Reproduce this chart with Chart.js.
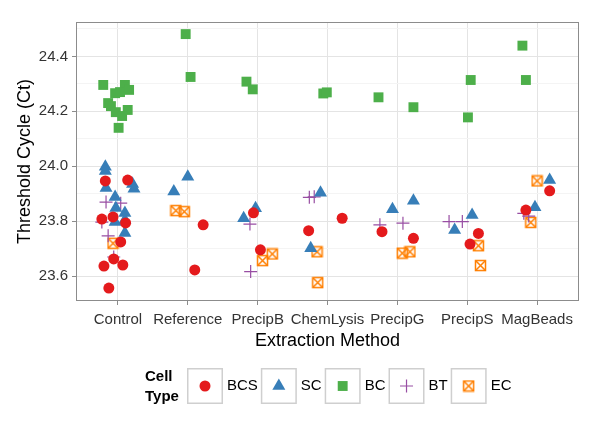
<!DOCTYPE html>
<html>
<head>
<meta charset="utf-8">
<script src="https://cdn.jsdelivr.net/npm/chart.js@4.4.0/dist/chart.umd.min.js"></script>
<style>
html, body { margin: 0; padding: 0; background: #fff; }
</style>
</head>
<body>
<canvas id="chart" width="600" height="436"></canvas>
<script>
var categories = ['Control', 'Reference', 'PrecipB', 'ChemLysis', 'PrecipG', 'PrecipS', 'MagBeads'];
var yGrid = [23.6, 23.7, 23.8, 23.9, 24.0, 24.1, 24.2, 24.3, 24.4, 24.5];

// x = category index plus the jitter seen in the picture
var bcsX = [-0.18, 0.14, -0.23, -0.07, 0.11, 0.04, -0.06, -0.20, 0.07, -0.13, 1.22, 1.10, 1.94, 2.04, 2.73, 3.21, 3.78, 4.23, 5.04, 5.16, 6.18, 5.84];
var bcsY = [23.947, 23.950, 23.808, 23.816, 23.794, 23.725, 23.663, 23.637, 23.641, 23.557, 23.787, 23.623, 23.831, 23.696, 23.766, 23.811, 23.762, 23.738, 23.717, 23.756, 23.911, 23.841];

var scX = [-0.18, -0.18, -0.17, 0.21, 0.23, -0.04, -0.03, 0.10, -0.04, 0.10, 0.10, 1.00, 0.80, 1.97, 1.80, 2.90, 2.76, 3.93, 4.23, 4.82, 5.07, 6.18, 5.97];
var scY = [23.998, 23.983, 23.921, 23.936, 23.918, 23.888, 23.848, 23.830, 23.797, 23.805, 23.757, 23.962, 23.908, 23.847, 23.811, 23.904, 23.702, 23.844, 23.875, 23.768, 23.823, 23.950, 23.851];

var bcX = [-0.21, 0.10, 0.16, -0.04, 0.03, -0.14, -0.10, 0.14, -0.03, 0.06, 0.01, 0.97, 1.04, 1.84, 1.93, 2.94, 2.99, 3.73, 4.23, 5.05, 5.01, 5.79, 5.84];
var bcY = [24.296, 24.296, 24.278, 24.266, 24.270, 24.230, 24.219, 24.205, 24.197, 24.183, 24.140, 24.481, 24.325, 24.308, 24.280, 24.265, 24.269, 24.251, 24.215, 24.314, 24.178, 24.439, 24.314];

var btX = [-0.17, 0.04, -0.23, 0.09, -0.14, -0.06, 1.89, 1.90, 2.74, 2.81, 3.75, 4.08, 4.74, 4.93, 5.81, 5.88];
var btY = [23.870, 23.866, 23.797, 23.794, 23.747, 23.670, 23.790, 23.617, 23.887, 23.889, 23.787, 23.793, 23.799, 23.799, 23.829, 23.819];

var ecX = [-0.07, 0.83, 0.95, 2.07, 2.21, 2.85, 2.86, 4.07, 4.18, 5.16, 5.19, 6.00, 5.91];
var ecY = [23.720, 23.839, 23.835, 23.657, 23.681, 23.689, 23.577, 23.684, 23.689, 23.711, 23.639, 23.947, 23.796];

var fontFamily = '"Liberation Sans", Arial, sans-serif';
Chart.defaults.font.family = fontFamily;

function pts(xs, ys) {
    return xs.map(function (x, i) { return { x: x, y: ys[i] }; });
}

// square with an X inside
function boxX(color) {
    var c = document.createElement('canvas');
    c.width = 13; c.height = 13;
    var g = c.getContext('2d');
    g.strokeStyle = color;
    g.lineWidth = 1.5;
    g.strokeRect(1.5, 1.5, 10, 10);
    g.beginPath();
    g.moveTo(1.5, 1.5); g.lineTo(11.5, 11.5);
    g.moveTo(11.5, 1.5); g.lineTo(1.5, 11.5);
    g.stroke();
    return c;
}

function isMajor(v) {
    return Math.abs(v * 5 - Math.round(v * 5)) < 1e-6;
}

var datasets = [
    { label: 'BCS', data: pts(bcsX, bcsY), pointStyle: 'circle', pointRadius: 5.5, borderWidth: 0,
      backgroundColor: '#E41A1C', borderColor: '#E41A1C' },
    { label: 'SC', data: pts(scX, scY), pointStyle: 'triangle', pointRadius: 7.5, borderWidth: 0,
      backgroundColor: '#377EB8', borderColor: '#377EB8' },
    { label: 'BC', data: pts(bcX, bcY), pointStyle: 'rect', pointRadius: 7, borderWidth: 0,
      backgroundColor: '#4DAF4A', borderColor: '#4DAF4A' },
    { label: 'BT', data: pts(btX, btY), pointStyle: 'cross', pointRadius: 6.5, borderWidth: 1.2,
      backgroundColor: '#984EA3', borderColor: '#984EA3' },
    { label: 'EC', data: pts(ecX, ecY), pointStyle: boxX('#FF7F00'), pointRadius: 6, borderWidth: 0,
      backgroundColor: '#FF7F00', borderColor: '#FF7F00' }
];
datasets.forEach(function (d) { d.pointHoverRadius = d.pointRadius; });

var panelAndLegend = {
    id: 'panelAndLegend',
    afterDraw: function (chart) {
        var ctx = chart.ctx;
        var a = chart.chartArea;
        ctx.save();
        ctx.strokeStyle = '#8c8c8c';
        ctx.lineWidth = 1;
        ctx.strokeRect(Math.round(a.left) + 0.5, Math.round(a.top) + 0.5,
            Math.round(a.right - a.left) - 1, Math.round(a.bottom - a.top) - 1);

        // legend
        ctx.fillStyle = '#000';
        ctx.textAlign = 'left';
        ctx.textBaseline = 'middle';
        ctx.font = 'bold 15px ' + fontFamily;
        ctx.fillText('Cell', 145, 377);
        ctx.fillText('Type', 145, 397);
        var x = 187, top = 368, size = 36;
        chart.data.datasets.forEach(function (ds) {
            ctx.strokeStyle = '#cfcfcf';
            ctx.lineWidth = 1.5;
            ctx.strokeRect(x + 0.75, top + 0.75, size - 1.5, size - 1.5);
            ctx.fillStyle = ds.backgroundColor;
            ctx.strokeStyle = ds.borderColor;
            ctx.lineWidth = ds.borderWidth;
            Chart.helpers.drawPoint(ctx, {
                pointStyle: ds.pointStyle, radius: ds.pointRadius, rotation: 0, borderWidth: ds.borderWidth
            }, x + size / 2, top + size / 2);
            ctx.fillStyle = '#000';
            ctx.font = '15px ' + fontFamily;
            ctx.fillText(ds.label, x + size + 4, top + size / 2);
            x += size + 4 + ctx.measureText(ds.label).width + 3;
        });
        ctx.restore();
    }
};

var config = {
    type: 'scatter',
    data: { datasets: datasets },
    options: {
        responsive: false,
        animation: false,
        layout: { padding: { left: 0, right: 21, top: 22, bottom: 85 } },
        plugins: {
            legend: { display: false },
            tooltip: { enabled: false }
        },
        scales: {
            x: {
                type: 'linear',
                min: -0.6,
                max: 6.6,
                afterBuildTicks: function (s) { s.ticks = categories.map(function (c, i) { return { value: i }; }); },
                afterFit: function (s) { s.height = 50; },
                ticks: {
                    autoSkip: false, maxRotation: 0, padding: 6, color: '#333',
                    font: { size: 15 },
                    callback: function (v) { return categories[v] !== undefined ? categories[v] : ''; }
                },
                grid: { color: '#e4e4e4', tickColor: '#8c8c8c', tickLength: 4 },
                border: { display: false },
                title: {
                    display: true, text: 'Extraction Method', color: '#000',
                    font: { size: 18, lineHeight: 1 }, padding: { top: 0, bottom: 1 }
                }
            },
            y: {
                type: 'linear',
                min: 23.51,
                max: 24.525,
                afterBuildTicks: function (s) { s.ticks = yGrid.map(function (v) { return { value: v }; }); },
                afterFit: function (s) { s.width = 76; },
                ticks: {
                    autoSkip: false, padding: 4, color: '#333',
                    font: { size: 15 },
                    callback: function (v) { return isMajor(v) ? v.toFixed(1) : ''; }
                },
                grid: {
                    color: function (c) { return c.tick && isMajor(c.tick.value) ? '#e4e4e4' : '#f4f4f4'; },
                    tickColor: function (c) { return c.tick && isMajor(c.tick.value) ? '#8c8c8c' : 'rgba(0,0,0,0)'; },
                    tickLength: 4
                },
                border: { display: false },
                title: {
                    display: true, text: 'Threshold Cycle (Ct)', color: '#000',
                    font: { size: 18, lineHeight: 1 }, padding: { top: 16, bottom: 0 }
                }
            }
        }
    },
    plugins: [panelAndLegend]
};

var chart = new Chart(document.getElementById('chart'), config);
</script>
</body>
</html>
